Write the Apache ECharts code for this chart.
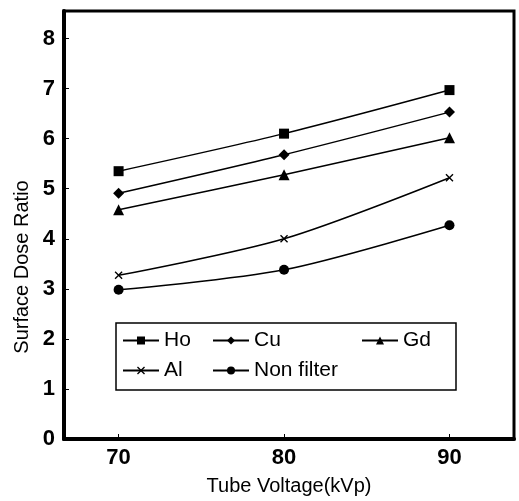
<!DOCTYPE html>
<html><head><meta charset="utf-8">
<script src="https://cdn.jsdelivr.net/npm/echarts@6/dist/echarts.min.js"></script>
<style>html,body{margin:0;padding:0;background:#fff}#c{width:519px;height:501px}</style>
</head><body><div id="c"></div>
<script>
const voltages = [70, 80, 90];
const xTickLabels = [70, 80, 90];
const yTickLabels = [0, 1, 2, 3, 4, 5, 6, 7, 8];
const seriesNames = ['Ho', 'Cu', 'Gd', 'Al', 'Non filter'];
const ho = [5.35, 6.10, 6.97];
const cu = [4.91, 5.68, 6.53];
const gd = [4.58, 5.28, 6.02];
const al = [3.27, 4.00, 5.22];
const nonFilter = [2.98, 3.38, 4.27];

const xMark = 'path://M0,1.2 L1.2,0 L5,3.8 L8.8,0 L10,1.2 L6.2,5 L10,8.8 L8.8,10 L5,6.2 L1.2,10 L0,8.8 L3.8,5 Z';
const symbols = ['rect', 'diamond', 'triangle', xMark, 'circle'];
const sizes = [10, 11, 11, 8, 10];
const values = [ho, cu, gd, al, nonFilter];

const series = seriesNames.map((n, i) => ({
  name: n, type: 'line',
  data: voltages.map((v, j) => [v, values[i][j]]),
  symbol: symbols[i], symbolSize: sizes[i],
  smooth: 0.3,
  lineStyle: {color: '#000', width: 1.5},
  itemStyle: {color: '#000'}
}));

const legendPos = [
  {left: 122, top: 330}, {left: 212, top: 330}, {left: 361, top: 330},
  {left: 122, top: 360}, {left: 212, top: 360}
];
const legends = seriesNames.map((n, i) => ({
  data: [n], left: legendPos[i].left, top: legendPos[i].top, padding: 0,
  itemWidth: 36, itemHeight: 10, itemGap: 0,
  textStyle: {fontFamily: 'Liberation Sans', fontSize: 21, color: '#000'},
  selectedMode: false
}));

const chart = echarts.init(document.getElementById('c'));
chart.setOption({
  animation: false,
  backgroundColor: '#fff',
  grid: {left: 64, top: 11, right: 5, bottom: 59, show: true, borderColor: '#000', borderWidth: 3},
  legend: legends,
  xAxis: {
    type: 'value', min: 66.7, max: 93.9,
    name: 'Tube Voltage(kVp)', nameLocation: 'middle', nameGap: 37,
    nameTextStyle: {fontFamily: 'Liberation Sans', fontSize: 20, color: '#000'},
    axisLine: {lineStyle: {color: '#000', width: 4}},
    axisTick: {inside: true, length: 5, lineStyle: {color: '#000', width: 1}, customValues: xTickLabels},
    axisLabel: {customValues: xTickLabels, fontFamily: 'Liberation Sans', fontSize: 22, fontWeight: 'bold', color: '#000', margin: 8},
    splitLine: {show: false}
  },
  yAxis: {
    type: 'value', min: 0, max: 8.55,
    axisLine: {lineStyle: {color: '#000', width: 4}},
    axisTick: {inside: true, length: 5, lineStyle: {color: '#000', width: 1}, customValues: yTickLabels},
    axisLabel: {customValues: yTickLabels, fontFamily: 'Liberation Sans', fontSize: 22, fontWeight: 'bold', color: '#000', margin: 9},
    splitLine: {show: false}
  },
  graphic: [
    {type: 'rect', shape: {x: 116, y: 323, width: 340, height: 67}, style: {fill: 'none', stroke: '#000', lineWidth: 1.5}, z: 0},
    {type: 'text', x: 22, y: 267, rotation: Math.PI / 2, style: {text: 'Surface Dose Ratio', fontFamily: 'Liberation Sans', fontSize: 20, fill: '#000', align: 'center', verticalAlign: 'middle'}}
  ],
  series: series
});
</script></body></html>
